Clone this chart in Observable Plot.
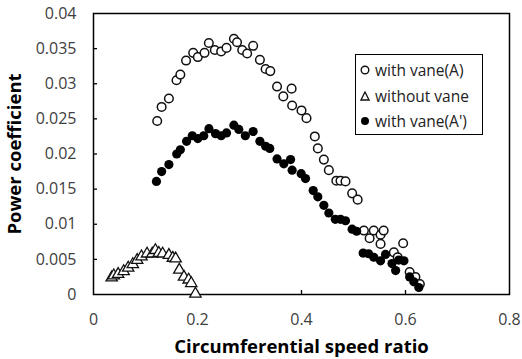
<!DOCTYPE html>
<html>
<head>
<meta charset="utf-8">
<script src="https://cdn.jsdelivr.net/npm/d3@7"></script>
<script src="https://cdn.jsdelivr.net/npm/@observablehq/plot@0.6"></script>
<style>
  body { margin: 0; background: #fff; }
  #wrap { position: relative; width: 522px; height: 359px; font-family: "Open Sans", sans-serif; }
  #legend { position: absolute; left: 355px; top: 54px; width: 126px; height: 79px; border: 1.5px solid #000; background: #fff; font-size: 15.5px; color: #222; }
  #legend .row { position: absolute; left: 4px; height: 22px; display: flex; align-items: center; white-space: nowrap; }
  #legend svg { margin-right: 5px; }
</style>
</head>
<body>
<div id="wrap"></div>
<script>
// with vane(A) — open circles
const vaneA_x = [0.1225,0.131,0.145,0.1596,0.167,0.178,0.1917,0.2006,0.2135,0.2218,0.2333,0.2455,0.2558,0.270,0.276,0.286,0.2955,0.307,0.320,0.331,0.340,0.353,0.365,0.381,0.382,0.400,0.4096,0.4256,0.4314,0.443,0.4526,0.467,0.475,0.4846,0.4974,0.508,0.520,0.531,0.539,0.552,0.558,0.552,0.5776,0.585,0.5955,0.608,0.619,0.6276];
const vaneA_y = [0.0247,0.0267,0.0279,0.0305,0.0313,0.0333,0.0344,0.0338,0.0344,0.0358,0.0348,0.0346,0.0351,0.0364,0.0359,0.0348,0.0343,0.0354,0.0334,0.0321,0.0318,0.0296,0.0282,0.0293,0.0269,0.0262,0.0251,0.0225,0.0208,0.0192,0.0177,0.0162,0.0162,0.0161,0.0144,0.0135,0.0091,0.0080,0.0091,0.0085,0.0091,0.0072,0.0060,0.0053,0.0073,0.0032,0.0025,0.0015];
// without vane — open triangles
const noVane_x = [0.035,0.039,0.0474,0.058,0.0667,0.0756,0.084,0.0923,0.103,0.113,0.119,0.1256,0.133,0.145,0.1525,0.158,0.165,0.174,0.183,0.188,0.196];
const noVane_y = [0.0024,0.0027,0.0029,0.0033,0.0038,0.0043,0.0049,0.0054,0.0058,0.0058,0.0063,0.0059,0.0058,0.0056,0.0052,0.0051,0.0035,0.0025,0.0021,0.0016,0.0001];
// with vane(A') — filled circles
const vaneA2_x = [0.121,0.131,0.145,0.160,0.167,0.179,0.190,0.2006,0.212,0.222,0.2346,0.2455,0.2558,0.270,0.2795,0.292,0.307,0.320,0.331,0.339,0.353,0.366,0.379,0.382,0.3994,0.4077,0.4225,0.4314,0.443,0.4526,0.465,0.475,0.4846,0.4974,0.506,0.5186,0.529,0.539,0.552,0.5615,0.574,0.581,0.587,0.597,0.608,0.616,0.6256];
const vaneA2_y = [0.0161,0.0175,0.0185,0.0200,0.0206,0.0218,0.0226,0.0222,0.0226,0.0236,0.0229,0.0226,0.0230,0.0241,0.0235,0.0226,0.0232,0.0218,0.0211,0.0208,0.0193,0.0186,0.0192,0.0177,0.0172,0.0165,0.0148,0.0139,0.0127,0.0116,0.0107,0.0107,0.0105,0.0093,0.0090,0.0059,0.0058,0.0053,0.0048,0.0057,0.0044,0.0034,0.0049,0.0048,0.0025,0.0018,0.0010];

const xTicks = [0, 0.2, 0.4, 0.6, 0.8];
const yTicks = [0, 0.005, 0.01, 0.015, 0.02, 0.025, 0.03, 0.035, 0.04];
const seriesNames = ["with vane(A)", "without vane", "with vane(A')"];

const zip = (xs, ys) => xs.map((x, i) => ({x, y: ys[i]}));
const A = zip(vaneA_x, vaneA_y);
const N = zip(noVane_x, noVane_y);
const A2 = zip(vaneA2_x, vaneA2_y);

const fmt = d => String(+d.toFixed(3));

const chart = Plot.plot({
  width: 522,
  height: 359,
  marginLeft: 93,
  marginRight: 13,
  marginTop: 13,
  marginBottom: 65,
  style: { fontFamily: "Open Sans, sans-serif", fontSize: "16px", color: "#333", background: "#fff" },
  x: { domain: [0, 0.8] },
  y: { domain: [0, 0.04] },
  marks: [
    Plot.axisX(xTicks, { anchor: "bottom", tickSize: 0, tickPadding: 19, tickFormat: fmt, fill: "#404040",
      label: "Circumferential speed ratio", labelAnchor: "center", labelArrow: "none", labelOffset: 58 }),
    Plot.axisX(xTicks.slice(1, -1), { anchor: "bottom", tickSize: 4, dy: -4, text: null, label: null, stroke: "#000", strokeWidth: 1.3 }),
    Plot.axisY(yTicks, { anchor: "left", tickSize: 0, tickPadding: 17, tickFormat: fmt, fill: "#404040",
      label: "Power coefficient", labelAnchor: "center", labelArrow: "none", labelOffset: 86 }),
    Plot.axisY(yTicks.slice(1, -1), { anchor: "left", tickSize: 4, dx: 4, text: null, label: null, stroke: "#000", strokeWidth: 1.3 }),
    Plot.frame({ stroke: "#000", strokeWidth: 1.5 }),
    Plot.dot(N, { x: "x", y: "y", symbol: "triangle", r: 4.2, stroke: "#111", strokeWidth: 1.3, fill: "#fff" }),
    Plot.dot(A, { x: "x", y: "y", r: 4.3, stroke: "#111", strokeWidth: 1.5, fill: "#fff" }),
    Plot.dot(A2, { x: "x", y: "y", r: 4.6, fill: "#000", stroke: "none" })
  ]
});

d3.select(chart).selectAll("[aria-label='x-axis label'] text, [aria-label='y-axis label'] text")
  .style("font-weight", "bold").style("font-size", "18.5px").attr("fill", "#000");

const wrap = document.getElementById("wrap");
wrap.appendChild(chart);

const legend = document.createElement("div");
legend.id = "legend";
const markers = [
  '<svg width="10" height="10"><circle cx="5" cy="5" r="3.8" fill="#fff" stroke="#111" stroke-width="1.4"/></svg>',
  '<svg width="10" height="10"><path d="M5,1L9,9L1,9Z" fill="#fff" stroke="#111" stroke-width="1.3"/></svg>',
  '<svg width="10" height="10"><circle cx="5" cy="5" r="4" fill="#000"/></svg>'
];
const rowTops = [4, 30, 55];
seriesNames.forEach((name, i) => {
  const row = document.createElement("div");
  row.className = "row";
  row.style.top = rowTops[i] + "px";
  row.innerHTML = markers[i] + "<span>" + name + "</span>";
  legend.appendChild(row);
});
wrap.appendChild(legend);
</script>
</body>
</html>
